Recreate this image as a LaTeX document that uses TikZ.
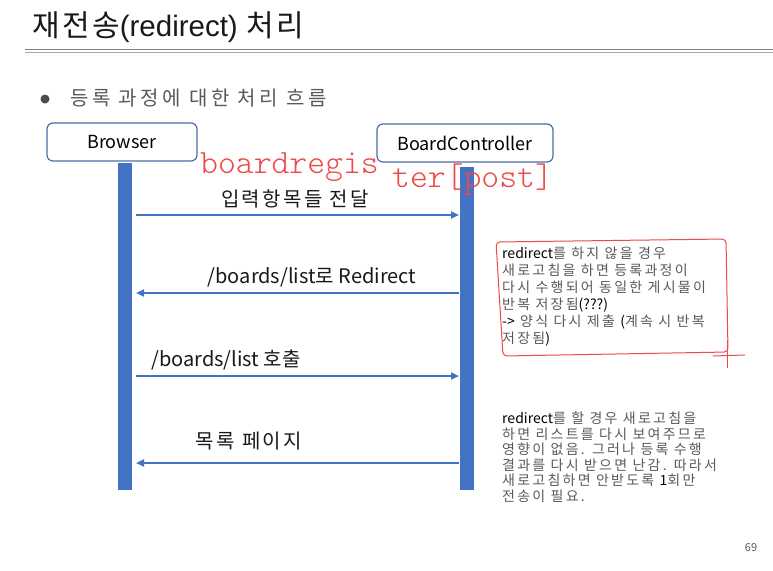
\documentclass[tikz,border=0pt]{standalone}
\usepackage{fontspec}
\setmainfont{Noto Sans CJK KR}
\newfontfamily\krsp[LetterSpace=12]{Noto Sans CJK KR}
\newfontfamily\krsub[LetterSpace=18]{Noto Sans CJK KR}
\newfontfamily\krnote[LetterSpace=16]{Noto Sans CJK KR}
\newfontfamily\krtitle[LetterSpace=8]{Noto Sans CJK KR}
\newfontfamily\plainlat{Noto Sans CJK KR}
\newfontfamily\arial{Liberation Sans}
\usetikzlibrary{arrows.meta}
\definecolor{lifeblue}{HTML}{4472C4}
\definecolor{boxblue}{HTML}{4A6FA5}
\definecolor{txtgray}{HTML}{595959}
\definecolor{pen}{HTML}{EE4848}
\newcommand{\lt}[1]{{\plainlat\color{black}#1}}
\tikzset{
  actor/.style={draw=boxblue, line width=1.2pt, rounded corners=6pt, fill=white,
    minimum height=38pt, inner sep=0pt, font=\fontsize{18}{20}\selectfont},
  lifeline/.style={fill=lifeblue, minimum width=14pt, inner sep=0pt, draw=none},
  msg/.style={draw=lifeblue, line width=2pt, -{Triangle[length=8pt,width=7pt]}},
  msglabel/.style={font=\krsp\fontsize{20}{22}\selectfont, inner sep=0pt, text=black!90},
  latlabel/.style={font=\fontsize{20}{22}\selectfont, inner sep=0pt, text=black!90},
  note/.style={font=\krnote\fontsize{14}{17}\selectfont, text=txtgray, align=left, anchor=north west, inner sep=0pt},
  hand/.style={inner sep=0pt, text=pen, font=\ttfamily\fontseries{l}\fontsize{34}{34}\selectfont},
}
\begin{document}
\begin{tikzpicture}[x=1pt,y=-1pt]
\useasboundingbox (0,0) rectangle (773,570);
% title
\node[anchor=base west, inner sep=0pt, font=\krtitle\fontsize{30}{32}\selectfont, text=black!90] (title) at (32,36) {재전송{\arial\fontsize{29.5}{32}\selectfont(redirect)} 처리};
\draw[draw=gray, line width=1pt] (25,49) -- (773,49);
\draw[draw=gray!70, line width=0.8pt] (25,52) -- (773,52);
% bullet
\node[circle, fill=black!70, minimum size=9pt, inner sep=0pt] (dot) at (45,99) {};
\node[anchor=west, inner sep=0pt, font=\krsub\fontsize{20}{22}\selectfont, text=txtgray] (sub) at (70,98) {등록 과정에 대한 처리 흐름};
% actors
\node[actor, minimum width=150pt] (browser) at (122,142) {Browser};
\node[actor, minimum width=176pt] (ctrl) at (465,143) {BoardController};
% lifelines
\node[lifeline, minimum height=327pt] (bl) at (125,326.5) {};
\node[lifeline, minimum height=323pt] (cl) at (467,328.5) {};
% message end points
\coordinate (b1) at (136,215); \coordinate (c1) at (459,215);
\coordinate (b2) at (136,293); \coordinate (c2) at (459,293);
\coordinate (b3) at (136,376); \coordinate (c3) at (459,376);
\coordinate (b4) at (136,463); \coordinate (c4) at (459,463);
\draw[msg] (b1) -- (c1);
\draw[msg] (c2) -- (b2);
\draw[msg] (b3) -- (c3);
\draw[msg] (c4) -- (b4);
\node[msglabel] (l1) at (295,199) {입력항목들 전달};
\node[latlabel] (l2) at (312,277) {/boards/list로 Redirect};
\node[latlabel] (l3) at (226,360) {/boards/list 호출};
\node[msglabel] (l4) at (249,441) {목록 페이지};
% handwriting
\node[hand, anchor=west] (hand1) at (200,167) {boardregis};
\node[hand, anchor=west] (hand2) at (392,180) {ter[post]};
% notes
\node[note] (n1) at (502,247) {\lt{redirect}를 하지 않을 경우\\새로고침을 하면 등록과정이\\다시 수행되어 동일한 게시물이\\반복 저장됨\lt{(???)}\\\lt{->} 양식 다시 제출 \lt{(}계속 시 반복\\저장됨\lt{)}};
\draw[pen, line width=1pt, rounded corners=4pt] (496,242) -- (726,239) -- (728,352) -- (503,356) -- cycle;
\draw[pen, line width=1pt] (713,356) -- (745,355);
\draw[pen, line width=1pt] (727,340) -- (727,368);
\node[note, font=\krnote\fontsize{14}{15.5}\selectfont] (n2) at (502,412) {\lt{redirect}를 할 경우 새로고침을\\하면 리스트를 다시 보여주므로\\영향이 없음. 그러나 등록 수행\\결과를 다시 받으면 난감. 따라서\\새로고침하면 안받도록 \lt{1}회만\\전송이 필요.};
\node[inner sep=0pt, font=\fontsize{11}{12}\selectfont, text=txtgray] (page) at (751,548) {69};
\end{tikzpicture}
\end{document}
